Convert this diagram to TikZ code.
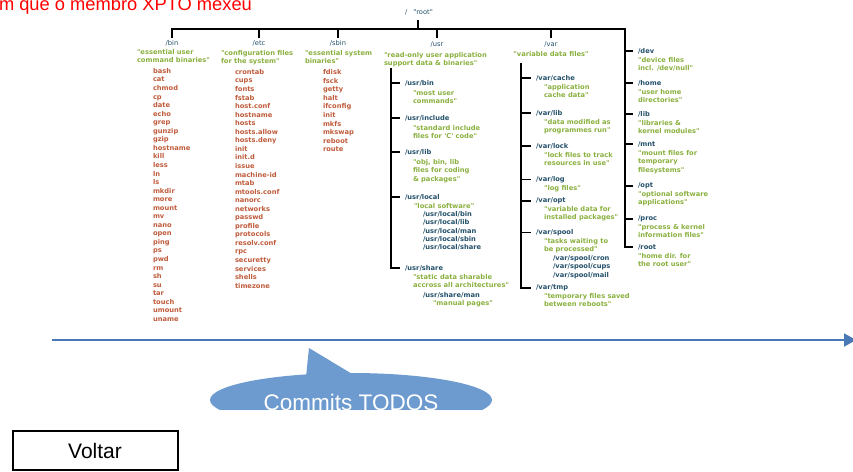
\documentclass[tikz,border=0pt]{standalone}
\usepackage{fontspec}
\setmainfont{Liberation Sans}
\newfontfamily\dvfont{DejaVu Sans}
\usetikzlibrary{arrows.meta}
\definecolor{nmcol}{HTML}{23506A}
\definecolor{dscol}{HTML}{8AB03F}
\definecolor{flcol}{HTML}{BF5B3B}
\definecolor{tlcol}{HTML}{4A78B4}
\definecolor{cocol}{HTML}{6D9BCF}
\newcommand{\mlines}[1]{\begin{tabular}[t]{@{}l@{}}#1\end{tabular}}
\begin{document}
\begin{tikzpicture}[x=1pt,y=-1pt,
  every node/.style={inner sep=0pt, outer sep=0pt},
  tf/.style={anchor=base west},
  nmtop/.style={text=nmcol, anchor=base, font=\dvfont\fontsize{6.7}{8.5}\selectfont},
  nm/.style={tf, text=nmcol, font=\dvfont\bfseries\fontsize{6.7}{8.5}\selectfont},
  ds/.style={tf, text=dscol, font=\dvfont\bfseries\fontsize{6.7}{8.5}\selectfont},
  fl/.style={tf, text=flcol, font=\dvfont\bfseries\fontsize{6.7}{8.55}\selectfont},
  sub/.style={tf, text=nmcol, font=\dvfont\bfseries\fontsize{6.7}{8.3}\selectfont},
  tree/.style={draw=black, line width=1.8pt}]
\useasboundingbox (0,0) rectangle (853,471);
\clip (0,0) rectangle (853,471);

% top red text
\node[anchor=base west, text=red, font=\fontsize{18.3}{20}\selectfont] (title) at (-1,10) {m que o membro XPTO mexeu};

% root
\node[anchor=base west, text=nmcol, font=\dvfont\fontsize{6.7}{8.5}\selectfont] (rootlbl) at (405,14.4) {/\hspace{6pt}"root"};

% tree coordinates
\coordinate (busL) at (172,29);
\coordinate (busR) at (625,29);
\coordinate (rootT) at (418,20);
\coordinate (rootB) at (418,29);

% top-level directories
\node[nmtop] (n-bin) at (172,45.4) {/bin};
\node[nmtop] (n-etc) at (259,45.4) {/etc};
\node[nmtop] (n-sbin) at (338,45.4) {/sbin};
\node[nmtop] (n-usr) at (437,46.4) {/usr};
\node[nmtop] (n-var) at (551,46.4) {/var};

\node[ds] (d-bin) at (137,54.4) {\mlines{"essential user\\command binaries"}};
\node[ds] (d-etc) at (221,55.4) {\mlines{"configuration files\\for the system"}};
\node[ds] (d-sbin) at (305,55.4) {\mlines{"essential system\\binaries"}};
\node[ds] (d-usr) at (384,57.4) {\mlines{"read-only user application\\support data \& binaries"}};
\node[ds, anchor=base] (d-var) at (551,56.4) {"variable data files"};

\node[fl] (f-bin) at (153,73.4) {\mlines{bash\\cat\\chmod\\cp\\date\\echo\\grep\\gunzip\\gzip\\hostname\\kill\\less\\ln\\ls\\mkdir\\more\\mount\\mv\\nano\\open\\ping\\ps\\pwd\\rm\\sh\\su\\tar\\touch\\umount\\uname}};
\node[fl] (f-etc) at (235,74.4) {\mlines{crontab\\cups\\fonts\\fstab\\host.conf\\hostname\\hosts\\hosts.allow\\hosts.deny\\init\\init.d\\issue\\machine-id\\mtab\\mtools.conf\\nanorc\\networks\\passwd\\profile\\protocols\\resolv.conf\\rpc\\securetty\\services\\shells\\timezone}};
\node[fl] (f-sbin) at (323,74.7) {\mlines{fdisk\\fsck\\getty\\halt\\ifconfig\\init\\mkfs\\mkswap\\reboot\\route}};

% /usr children
\node[nm] (ubin) at (405,85.4) {/usr/bin};
\node[ds] (d-ubin) at (413,95.4) {\mlines{"most user\\commands"}};
\node[nm] (uinc) at (405,120.4) {/usr/include};
\node[ds] (d-uinc) at (413,130.4) {\mlines{"standard include\\files for 'C' code"}};
\node[nm] (ulib) at (405,154.4) {/usr/lib};
\node[ds] (d-ulib) at (413,164.4) {\mlines{"obj, bin, lib\\files for coding\\\& packages"}};
\node[nm] (uloc) at (405,199.4) {/usr/local};
\node[ds] (d-uloc) at (414,208.4) {"local software"};
\node[sub] (s-uloc) at (423,216.6) {\mlines{/usr/local/bin\\/usr/local/lib\\/usr/local/man\\/usr/local/sbin\\/usr/local/share}};
\node[nm] (ushare) at (405,270.4) {/usr/share};
\node[ds] (d-ushare) at (413,279.4) {\mlines{"static data sharable\\accross all architectures"}};
\node[sub] (s-ushare) at (423,297.4) {/usr/share/man};
\node[ds] (d-uman) at (433,305.4) {"manual pages"};

% /var children
\node[nm] (vcache) at (536,80.4) {/var/cache};
\node[ds] (d-vcache) at (544,89.4) {\mlines{"application\\cache data"}};
\node[nm] (vlib) at (536,115.4) {/var/lib};
\node[ds] (d-vlib) at (544,124.4) {\mlines{"data modified as\\programmes run"}};
\node[nm] (vlock) at (536,148.4) {/var/lock};
\node[ds] (d-vlock) at (544,157.4) {\mlines{"lock files to track\\resources in use"}};
\node[nm] (vlog) at (536,181.4) {/var/log};
\node[ds] (d-vlog) at (544,190.4) {"log files"};
\node[nm] (vopt) at (536,202.4) {/var/opt};
\node[ds] (d-vopt) at (544,211.4) {\mlines{"variable data for\\installed packages"}};
\node[nm] (vspool) at (536,234.4) {/var/spool};
\node[ds] (d-vspool) at (544,243.4) {\mlines{"tasks waiting to\\be processed"}};
\node[sub] (s-vspool) at (553,260.4) {\mlines{/var/spool/cron\\/var/spool/cups\\/var/spool/mail}};
\node[nm] (vtmp) at (536,289.4) {/var/tmp};
\node[ds] (d-vtmp) at (544,298.4) {\mlines{"temporary files saved\\between reboots"}};

% right column
\node[nm] (rdev) at (638,53.4) {/dev};
\node[ds] (d-rdev) at (638,62.4) {\mlines{"device files\\incl. /dev/null"}};
\node[nm] (rhome) at (638,85.4) {/home};
\node[ds] (d-rhome) at (638,94.4) {\mlines{"user home\\directories"}};
\node[nm] (rlib) at (638,116.4) {/lib};
\node[ds] (d-rlib) at (638,125.4) {\mlines{"libraries \&\\kernel modules"}};
\node[nm] (rmnt) at (638,146.4) {/mnt};
\node[ds] (d-rmnt) at (638,155.4) {\mlines{"mount files for\\temporary\\filesystems"}};
\node[nm] (ropt) at (638,187.4) {/opt};
\node[ds] (d-ropt) at (638,196.4) {\mlines{"optional software\\applications"}};
\node[nm] (rproc) at (638,220.4) {/proc};
\node[ds] (d-rproc) at (638,229.4) {\mlines{"process \& kernel\\information files"}};
\node[nm] (rroot) at (638,249.4) {/root};
\node[ds] (d-rroot) at (638,258.4) {\mlines{"home dir. for\\the root user"}};

% tree lines
\draw[tree] (rootT) -- (rootB);
\draw[tree] (172,38) -- (busL) -- (busR) -- (busR |- rroot.west) -- ([xshift=-5pt]rroot.west);
\foreach \x in {259,338,437,551} \draw[tree] (\x,29) -- (\x,38);
\foreach \n in {rdev,rhome,rlib,rmnt,ropt,rproc} \draw[tree] (busR |- \n.west) -- ([xshift=-5pt]\n.west);

\coordinate (usrT) at (391,68);
\draw[tree] (usrT) -- (usrT |- ushare.west) -- ([xshift=-5pt]ushare.west);
\foreach \n in {ubin,uinc,ulib,uloc} \draw[tree] (usrT |- \n.west) -- ([xshift=-5pt]\n.west);

\coordinate (varT) at (521,63);
\draw[tree] (varT) -- (varT |- vtmp.west) -- ([xshift=-5pt]vtmp.west);
\foreach \n in {vcache,vlib,vlock,vlog,vopt,vspool} \draw[tree] (varT |- \n.west) -- ([xshift=-5pt]\n.west);

% timeline
\coordinate (tlA) at (52,340);
\coordinate (tlB) at (856,340);
\draw[tlcol, line width=2pt, -{Triangle[length=12pt,width=13pt]}] (tlA) -- (tlB);

% callout
\begin{scope}
  \clip (0,0) rectangle (853,409);
  \fill[cocol] (351,400) ellipse [x radius=141, y radius=27];
  \fill[cocol] (306,377) -- (309,348) -- (353,374.5) -- (330,380) -- cycle;
  \node[anchor=base, text=white, font=\fontsize{22.5}{26}\selectfont] (commits) at (351,410) {Commits TODOS};
\end{scope}

% Voltar button
\node[draw=black, line width=2pt, minimum width=165pt, minimum height=39pt, font=\fontsize{21}{24}\selectfont] (voltar) at (95,450.5) {Voltar};
\end{tikzpicture}
\end{document}
